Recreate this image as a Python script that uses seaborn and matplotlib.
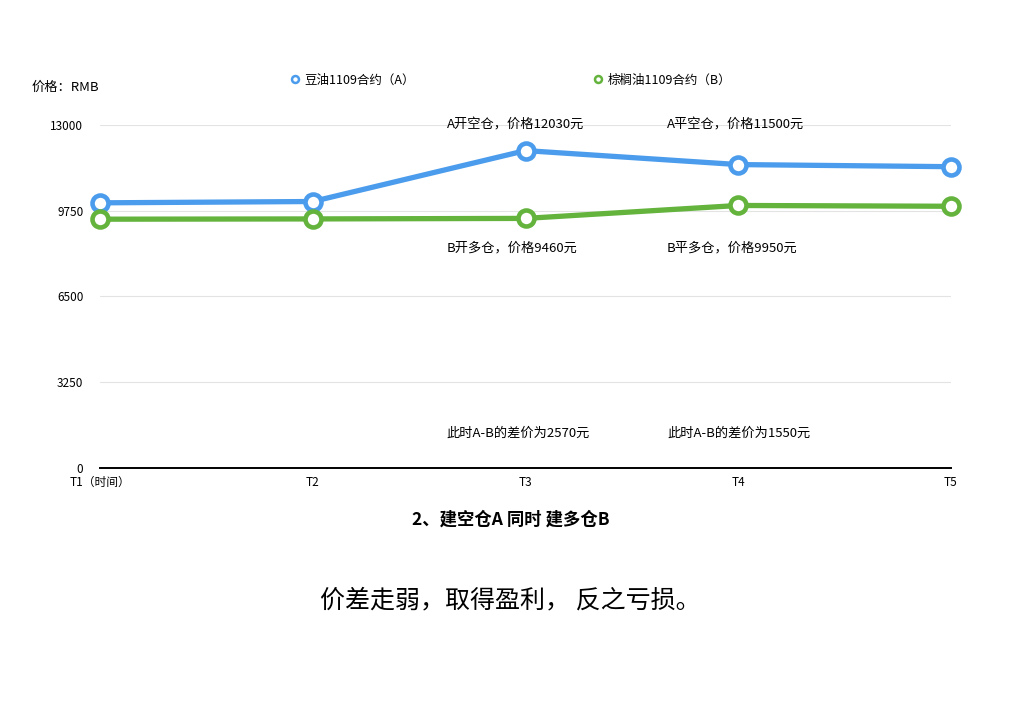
import matplotlib
matplotlib.use("Agg")
import matplotlib.pyplot as plt
from matplotlib.lines import Line2D
import seaborn as sns
import pandas as pd

periods = ["T1（时间）", "T2", "T3", "T4", "T5"]
soy_oil = [10050, 10100, 12030, 11500, 11420]
palm_oil = [9430, 9440, 9460, 9950, 9920]
series_names = ["豆油1109合约（A）", "棕榈油1109合约（B）"]
y_ticks = [0, 3250, 6500, 9750, 13000]
notes_top = ["A开空仓，价格12030元", "A平空仓，价格11500元"]
notes_mid = ["B开多仓，价格9460元", "B平多仓，价格9950元"]
notes_low = ["此时A-B的差价为2570元", "此时A-B的差价为1550元"]

sns.set_style("white")
plt.rcParams["font.family"] = ["Noto Sans CJK SC", "DejaVu Sans"]
plt.rcParams["text.color"] = "black"
plt.rcParams["xtick.color"] = "black"
plt.rcParams["ytick.color"] = "black"

colors = ["#4b9cec", "#63b33d"]

df = pd.DataFrame({
    "pos": list(range(len(periods))) * 2,
    "price": soy_oil + palm_oil,
    "series": [series_names[0]] * len(periods) + [series_names[1]] * len(periods),
})

fig = plt.figure(figsize=(10.21, 7.13), dpi=100)
ax = fig.add_axes([100 / 1021, 1 - 468 / 713, (951 - 100) / 1021, (468 - 125) / 713])

sns.lineplot(data=df, x="pos", y="price", hue="series", palette=colors,
             marker="o", markersize=11.5, linewidth=3.8, ax=ax, legend=False)
for line, c in zip(ax.lines, colors):
    line.set_markerfacecolor("white")
    line.set_markeredgecolor(c)
    line.set_markeredgewidth(3.3)
    line.set_clip_on(False)
    line.set_zorder(5)

ax.set_xlim(0, 4)
ax.set_ylim(0, 13000)
ax.set_yticks(y_ticks)
ax.set_yticklabels([str(v) for v in y_ticks], fontsize=8.5)
ax.set_xticks(range(len(periods)))
ax.set_xticklabels(periods, fontsize=8.5)
ax.tick_params(axis="both", length=0, pad=6)
ax.tick_params(axis="y", pad=12)
ax.set_xlabel("")
ax.set_ylabel("")
for s in ["left", "right", "top"]:
    ax.spines[s].set_visible(False)
ax.spines["bottom"].set_color("black")
ax.spines["bottom"].set_linewidth(1.4)
ax.yaxis.grid(True, color="#e3e3e3", linewidth=0.8)
ax.set_axisbelow(True)

# annotations
xs = [1.63, 2.665]
for x, t in zip(xs, notes_top):
    ax.text(x, 13000, t, fontsize=9.5, ha="left", va="center", zorder=6)
for x, t in zip(xs, notes_mid):
    ax.text(x, 8330, t, fontsize=9.5, ha="left", va="center", zorder=6)
for x, t in zip(xs, notes_low):
    ax.text(x, 1320, t, fontsize=9.5, ha="left", va="center", zorder=6)

handles = [Line2D([], [], marker="o", linestyle="none", markerfacecolor="white",
                  markeredgecolor=c, markersize=5, markeredgewidth=1.8) for c in colors]
fig.legend(handles, series_names, loc="center left", bbox_to_anchor=(277 / 1021, 1 - 80 / 713),
           ncol=2, frameon=False, fontsize=9, columnspacing=14.1, handletextpad=0.3,
           handlelength=1.0)

fig.text(32 / 1021, 1 - 87 / 713, "价格：RMB", fontsize=9.5, ha="left", va="center")
fig.text(0.5, 1 - 520 / 713, "2、建空仓A 同时 建多仓B", fontsize=12.5, fontweight="bold",
         ha="center", va="center")
fig.text(0.5, 1 - 600 / 713, "价差走弱，取得盈利， 反之亏损。", fontsize=18,
         ha="center", va="center")

fig.savefig("out.png", dpi=100)
